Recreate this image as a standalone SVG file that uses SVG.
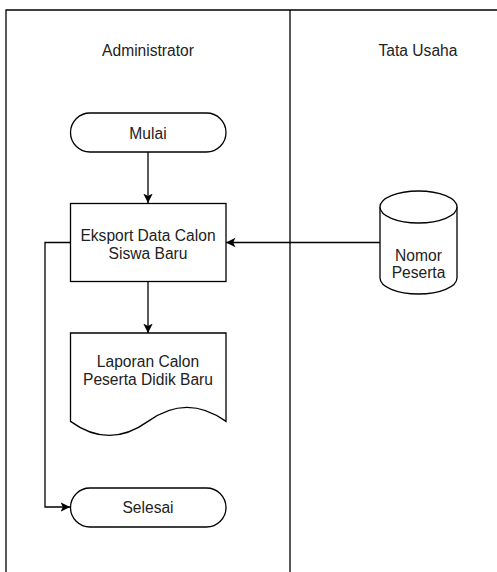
<svg xmlns="http://www.w3.org/2000/svg" width="497" height="572" viewBox="0 0 497 572">
  <style>
    .shape { fill: #ffffff; stroke: #000000; stroke-width: 1.3; }
    .lane { fill: none; stroke: #000000; stroke-width: 1.3; }
    .edge { fill: none; stroke: #000000; stroke-width: 1.3; }
    text { font-family: "Liberation Sans", Arial, sans-serif; font-size: 15.6px; fill: #222222; text-anchor: middle; }
  </style>
  <defs>
    <marker id="arrow" viewBox="0 0 10 10" refX="10" refY="5" markerWidth="9.5" markerHeight="10.5" markerUnits="userSpaceOnUse" orient="auto">
      <path d="M0,0 L10,5 L0,10 L2.5,5 Z" fill="#000000"/>
    </marker>
  </defs>
  <rect x="0" y="0" width="497" height="572" fill="#ffffff"/>
  <g id="lanes">
    <path class="lane" d="M6,572 V10 H497"/>
    <path class="lane" d="M290,10 V572"/>
    <text x="148" y="56">Administrator</text>
    <text x="418" y="56">Tata Usaha</text>
  </g>
  <g id="connectors">
    <path class="edge" d="M148,152 V203" marker-end="url(#arrow)"/>
    <path class="edge" d="M380,242.5 H226" marker-end="url(#arrow)"/>
    <path class="edge" d="M148,281.5 V333" marker-end="url(#arrow)"/>
    <path class="edge" d="M70,242.5 H45 V507 H70" marker-end="url(#arrow)"/>
  </g>
  <g id="mulai">
    <rect class="shape" x="70.5" y="113" width="155.5" height="39" rx="19.5" ry="19.5"/>
    <text x="148" y="139.3">Mulai</text>
  </g>
  <g id="eksport">
    <rect class="shape" x="70.5" y="203.5" width="155.5" height="78"/>
    <text x="148" y="240.5">Eksport Data Calon</text>
    <text x="148" y="259">Siswa Baru</text>
  </g>
  <g id="laporan">
    <path class="shape" d="M70.5,333 H226 V421.4 Q187,393.3 148,421.4 Q109,449.5 70.5,421.4 Z"/>
    <text x="148" y="366.7">Laporan Calon</text>
    <text x="148" y="384.5">Peserta Didik Baru</text>
  </g>
  <g id="selesai">
    <rect class="shape" x="70.5" y="488" width="155.5" height="39" rx="19.5" ry="19.5"/>
    <text x="148" y="513.3">Selesai</text>
  </g>
  <g id="nomor">
    <path class="shape" d="M380,207 V278 A38.5,16 0 0 0 457,278 V207"/>
    <ellipse class="shape" cx="418.5" cy="207" rx="38.5" ry="16"/>
    <text x="418.5" y="261">Nomor</text>
    <text x="418.5" y="278">Peserta</text>
  </g>
</svg>
